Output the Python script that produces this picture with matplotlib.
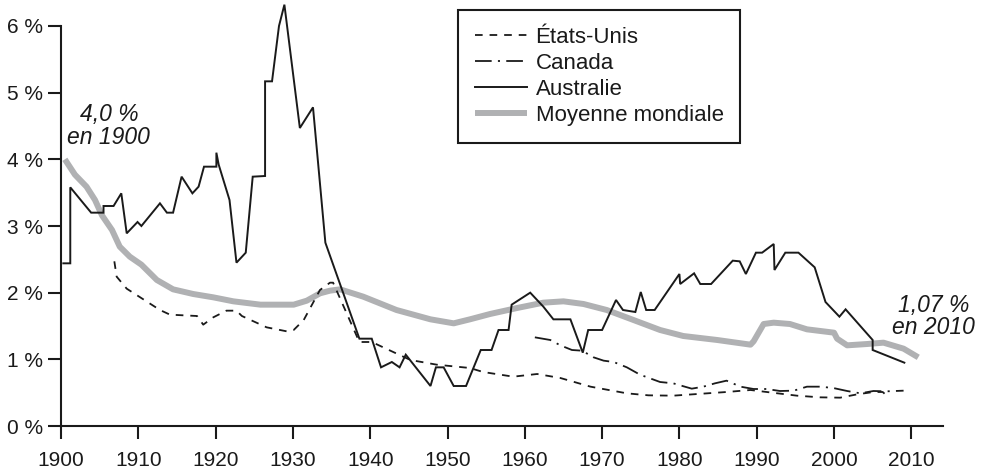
import matplotlib
matplotlib.use("Agg")
import matplotlib.pyplot as plt
from matplotlib.ticker import FixedLocator, FuncFormatter

plt.rcParams['font.family'] = ['Liberation Sans', 'DejaVu Sans']
plt.rcParams['lines.scale_dashes'] = False

# ---------------- data ----------------
aus_years = [1900.3, 1901.2, 1901.2, 1903.9, 1905.5, 1905.5, 1906.8, 1907.8, 1908.5, 1909.9,
             1910.4, 1912.8, 1913.7, 1914.5, 1915.6, 1917.0, 1917.8, 1918.5, 1920.1, 1920.1,
             1920.4, 1921.8, 1922.7, 1923.9, 1924.8, 1926.4, 1926.4, 1927.3, 1928.2, 1928.9,
             1930.9, 1932.6, 1934.2, 1938.6, 1940.2, 1941.4, 1942.8, 1943.8, 1944.6, 1947.8,
             1948.5, 1949.5, 1950.8, 1952.4, 1954.3, 1955.7, 1956.6, 1957.9, 1958.3, 1960.7,
             1962.4, 1963.7, 1965.9, 1967.5, 1968.2, 1970.0, 1971.8, 1972.7, 1974.3, 1975.0,
             1975.7, 1976.8, 1980.0, 1980.1, 1981.9, 1982.7, 1984.1, 1986.9, 1987.8, 1988.6,
             1989.9, 1990.7, 1992.2, 1992.3, 1993.7, 1995.4, 1997.5, 1998.9, 2000.7, 2001.5,
             2005.0, 2005.0, 2009.1]
aus_vals = [2.44, 2.44, 3.58, 3.20, 3.20, 3.30, 3.30, 3.49, 2.89, 3.06,
            3.00, 3.34, 3.20, 3.20, 3.74, 3.49, 3.59, 3.89, 3.89, 4.10,
            3.92, 3.39, 2.45, 2.60, 3.74, 3.75, 5.17, 5.17, 6.00, 6.32,
            4.47, 4.78, 2.75, 1.31, 1.31, 0.88, 0.96, 0.88, 1.07, 0.60,
            0.88, 0.88, 0.60, 0.60, 1.14, 1.14, 1.44, 1.44, 1.82, 2.00,
            1.79, 1.60, 1.60, 1.10, 1.44, 1.44, 1.89, 1.74, 1.71, 2.01,
            1.74, 1.74, 2.28, 2.13, 2.29, 2.13, 2.13, 2.48, 2.47, 2.28,
            2.60, 2.60, 2.73, 2.34, 2.60, 2.60, 2.38, 1.86, 1.64, 1.75,
            1.29, 1.14, 0.95]

us_years = [1906.9, 1907.2, 1908.5, 1912.8, 1914.1, 1917.6, 1918.4, 1919.7, 1921.4, 1922.7,
            1923.4, 1926.6, 1929.2, 1930.1, 1931.4, 1933.5, 1934.8, 1935.2, 1938.6, 1940.2,
            1945.2, 1948.6, 1952.9, 1954.6, 1958.5, 1961.6, 1964.6, 1968.5, 1973.2, 1976.0,
            1979.2, 1983.6, 1986.1, 1989.2, 1992.0, 1995.2, 1998.2, 2000.8, 2003.0, 2005.1,
            2006.3, 2007.1]
us_vals = [2.47, 2.24, 2.06, 1.74, 1.67, 1.65, 1.52, 1.63, 1.73, 1.73,
           1.65, 1.48, 1.42, 1.44, 1.59, 2.04, 2.15, 2.15, 1.26, 1.26,
           0.99, 0.92, 0.87, 0.81, 0.74, 0.78, 0.72, 0.59, 0.49, 0.46,
           0.455, 0.49, 0.51, 0.54, 0.50, 0.455, 0.43, 0.425, 0.475, 0.51,
           0.51, 0.425]

ca_years = [1961.3, 1963.3, 1964.6, 1966.1, 1967.4, 1968.9, 1970.2, 1971.5, 1973.2, 1974.9,
            1977.5, 1979.2, 1981.6, 1983.1, 1984.6, 1986.1, 1987.9, 1989.6, 1991.3, 1993.0,
            1994.8, 1996.5, 1998.2, 1999.9, 2001.7, 2003.4, 2005.1, 2006.8, 2009.0]
ca_vals = [1.33, 1.29, 1.21, 1.14, 1.13, 1.03, 0.98, 0.96, 0.88, 0.77,
           0.66, 0.64, 0.56, 0.59, 0.64, 0.68, 0.59, 0.555, 0.555, 0.525,
           0.53, 0.59, 0.59, 0.57, 0.525, 0.49, 0.525, 0.52, 0.53]

w_years = [1900.5, 1901.8, 1903.3, 1904.4, 1905.3, 1906.6, 1907.6, 1908.9, 1910.4, 1912.4,
           1914.5, 1917.1, 1919.7, 1922.3, 1925.8, 1930.1, 1931.8, 1933.5, 1934.8, 1936.1,
           1939.1, 1943.4, 1947.8, 1950.8, 1952.9, 1955.5, 1959.0, 1962.4, 1965.0, 1967.6,
           1970.6, 1973.6, 1977.5, 1980.5, 1984.9, 1989.2, 1989.6, 1990.9, 1992.2, 1994.3,
           1996.5, 2000.0, 2000.4, 2001.7, 2004.3, 2006.4, 2009.0, 2010.9]
w_vals = [4.00, 3.77, 3.59, 3.39, 3.16, 2.94, 2.69, 2.54, 2.42, 2.19,
          2.05, 1.98, 1.93, 1.87, 1.82, 1.82, 1.88, 1.99, 2.03, 2.05,
          1.94, 1.74, 1.60, 1.54, 1.60, 1.68, 1.77, 1.85, 1.87, 1.83,
          1.74, 1.61, 1.44, 1.35, 1.29, 1.22, 1.27, 1.53, 1.55, 1.53,
          1.45, 1.40, 1.31, 1.21, 1.23, 1.25, 1.16, 1.03]

x_ticks = [1900, 1910, 1920, 1930, 1940, 1950, 1960, 1970, 1980, 1990, 2000, 2010]
y_ticks = [0, 1, 2, 3, 4, 5, 6]
labels = ["États-Unis", "Canada", "Australie", "Moyenne mondiale"]
ann_start = "4,0 %\nen 1900"
ann_end = "1,07 %\nen 2010"

# ---------------- figure ----------------
W, H = 983, 473
fig = plt.figure(figsize=(W / 100, H / 100), dpi=100)
ax = fig.add_axes([61 / W, 47 / H, 882 / W, 426 / H])
ink = '#1a1a1a'
gray = '#b0b1b3'

l_us, = ax.plot(us_years, us_vals, color=ink, lw=1.3, linestyle=(0, (5.5, 5.0)))
l_ca, = ax.plot(ca_years, ca_vals, color=ink, lw=1.3, linestyle=(0, (12, 4.5, 1.5, 4.5)))
l_au, = ax.plot(aus_years, aus_vals, color=ink, lw=1.4, solid_joinstyle='miter')
l_w, = ax.plot(w_years, w_vals, color=gray, lw=4.3, solid_capstyle='butt',
               solid_joinstyle='round', zorder=1)

ax.set_xlim(1900, 2014.1)
ax.set_ylim(0, 6.39)
for s in ['top', 'right']:
    ax.spines[s].set_visible(False)
ax.spines['left'].set_bounds(0, 6)
for s in ['left', 'bottom']:
    ax.spines[s].set_linewidth(1.5)
    ax.spines[s].set_color(ink)

ax.xaxis.set_major_locator(FixedLocator(x_ticks))
ax.yaxis.set_major_locator(FixedLocator(y_ticks))
ax.yaxis.set_major_formatter(FuncFormatter(lambda v, p: f"{int(v)} %"))
ax.tick_params(axis='both', direction='out', length=9.2, width=1.5, color=ink,
               labelsize=15, labelcolor=ink)
ax.tick_params(axis='x', pad=9)
ax.tick_params(axis='y', pad=4)

ax.text(1906.2, 4.5, ann_start, ha='center', va='center', fontsize=16.5,
        style='italic', color=ink, linespacing=0.97, multialignment='center')
ax.text(2012.85, 1.64, ann_end, ha='center', va='center', fontsize=16.5,
        style='italic', color=ink, linespacing=0.97, multialignment='center',
        clip_on=False)

leg = ax.legend([l_us, l_ca, l_au, l_w], labels, loc='upper left',
                bbox_to_anchor=(458 / W, 1 - 10 / H), bbox_transform=fig.transFigure,
                fontsize=16, frameon=True, fancybox=False, framealpha=1,
                edgecolor=ink, borderpad=0.75, handlelength=2.37, handletextpad=0.37,
                labelspacing=0.23, borderaxespad=0)
leg.get_frame().set_linewidth(1.5)
for t in leg.get_texts():
    t.set_color(ink)

fig.savefig("out.png", dpi=100)
